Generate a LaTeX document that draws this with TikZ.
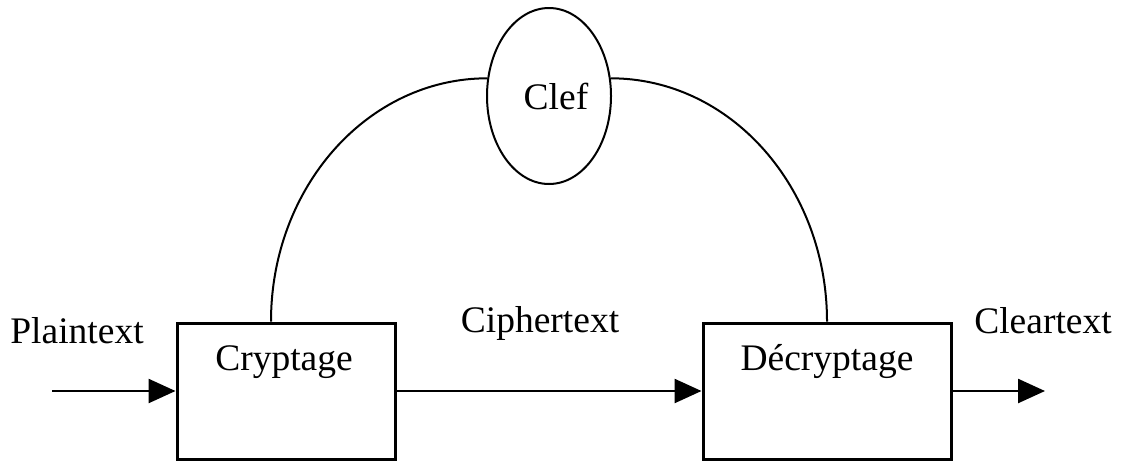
\documentclass[tikz,border=0pt]{standalone}
\usepackage{fontspec}
\setmainfont{Liberation Serif}
\usetikzlibrary{arrows.meta,shapes.geometric}
\begin{document}
\begin{tikzpicture}[
  x=1pt,y=-1pt,
  bloc/.style={draw,line width=3pt,minimum height=136pt,inner sep=0pt},
  cle/.style={draw,ellipse,line width=2pt,minimum width=124pt,minimum height=176pt,inner sep=0pt},
  txt/.style={anchor=base,inner sep=0pt,font=\fontsize{37.5pt}{45pt}\selectfont},
  fleche/.style={-{Triangle[length=27pt,width=24pt]},line width=2.5pt},
  cable/.style={line width=2pt}
]
\useasboundingbox (0,0) rectangle (1123,461);
\node[bloc,minimum width=218pt] (crypt) at (286,391) {};
\node[bloc,minimum width=248pt] (decrypt) at (827,391) {};
\node[cle,font=\fontsize{37.5pt}{45pt}\selectfont] (clef) at (549,96) {\hspace{14pt}Clef};
\coordinate (entree) at (52,391);
\coordinate (sortie) at (1045,391);
\node[txt] (plain) at (77,343) {Plaintext};
\node[txt] (cipher) at (540,332) {Ciphertext};
\node[txt] (clear) at (1043,333) {Cleartext};
\node[txt] (tcrypt) at (284,370) {Cryptage};
\node[txt] (tdecrypt) at (827,370) {Décryptage};
\draw[fleche] (entree) -- (crypt);
\draw[fleche] (crypt) -- (decrypt);
\draw[fleche] (decrypt) -- (sortie);
\draw[cable] ([xshift=-15pt]crypt.north) .. controls +(0,-134) and +(-120,0) .. (clef.164);
\draw[cable] (clef.16) .. controls +(120,0) and +(0,-134) .. (decrypt.north);
\end{tikzpicture}
\end{document}
